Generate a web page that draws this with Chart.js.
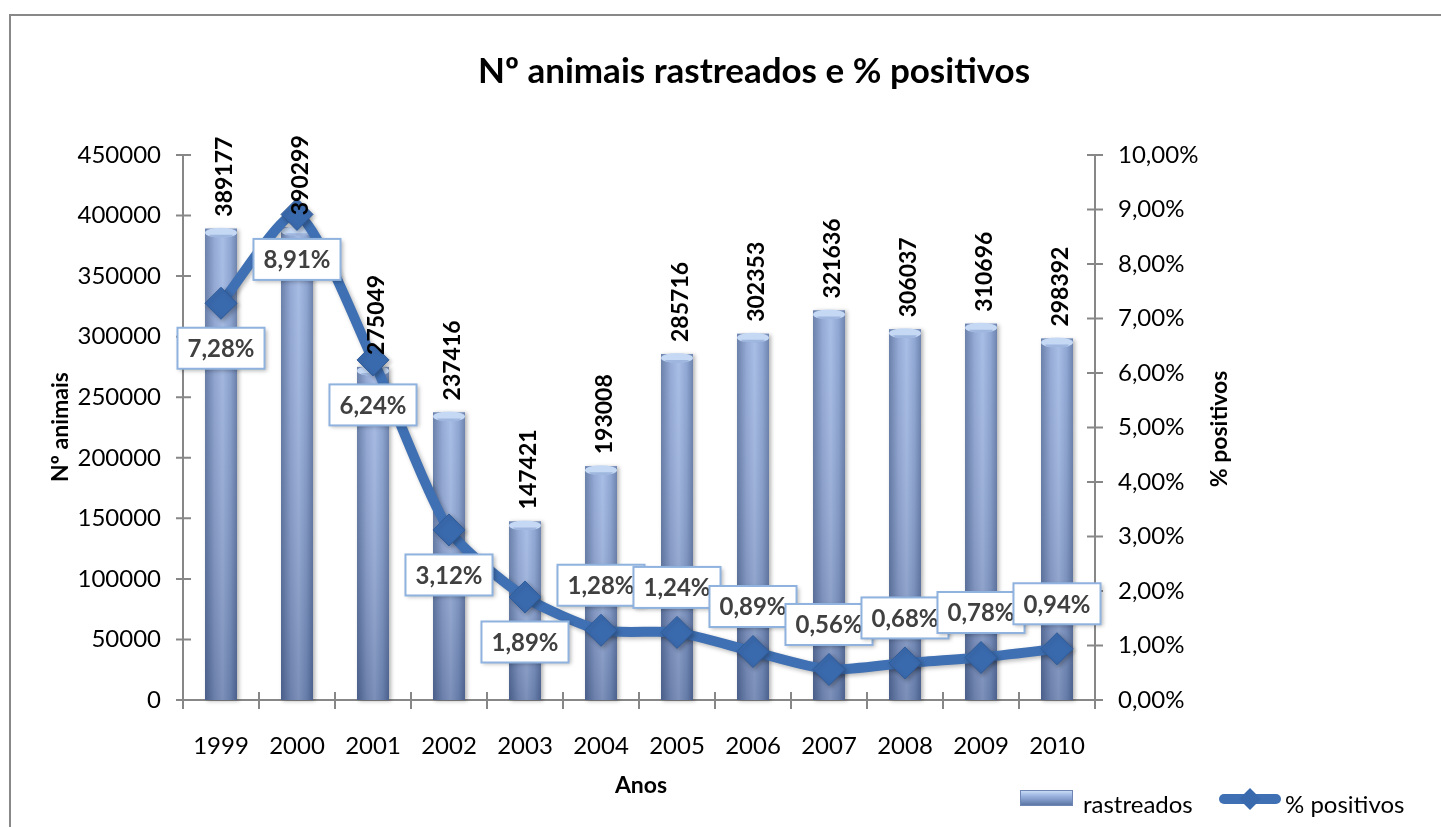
<!DOCTYPE html>
<html>
<head>
<meta charset="utf-8">
<title>Nº animais rastreados e % positivos</title>
<script src="https://cdn.jsdelivr.net/npm/chart.js@4/dist/chart.umd.min.js"></script>
<style>
  html, body { margin: 0; padding: 0; background: #fff; }
  #wrap { width: 1441px; height: 827px; }
</style>
</head>
<body>
<div id="wrap"><canvas id="chart" width="1441" height="827"></canvas></div>
<script>
// data
const anos = ['1999', '2000', '2001', '2002', '2003', '2004', '2005', '2006', '2007', '2008', '2009', '2010'];
const rastreados = [389177, 390299, 275049, 237416, 147421, 193008, 285716, 302353, 321636, 306037, 310696, 298392];
const positivos = [7.28, 8.91, 6.24, 3.12, 1.89, 1.28, 1.24, 0.89, 0.56, 0.68, 0.78, 0.94];
const animaisTicks = [0, 50000, 100000, 150000, 200000, 250000, 300000, 350000, 400000, 450000];
const pctTicks = [0, 1, 2, 3, 4, 5, 6, 7, 8, 9, 10];

const FONT = 'Lato, "Open Sans", sans-serif';
const AXIS_GREY = '#878787';
const LINE_BLUE = '#3f70b3';

// percent as "7,28%"
const pct = v => v.toFixed(2).replace('.', ',') + '%';

Chart.defaults.font.family = FONT;
Chart.defaults.color = '#000';

// frame, title, axis titles, axis lines with crossing ticks
const decorPlugin = {
    id: 'decor',
    beforeDraw(chart) {
        const c = chart.ctx;
        c.save();
        c.strokeStyle = '#888';
        c.lineWidth = 2;
        c.beginPath();
        c.moveTo(10, 830);
        c.lineTo(10, 15);
        c.lineTo(1445, 15);
        c.stroke();

        c.fillStyle = '#000';
        c.textAlign = 'center';
        c.textBaseline = 'middle';
        c.font = 'bold 35px ' + FONT;
        c.fillText('Nº animais rastreados e % positivos', 754, 72);

        c.font = 'bold 23px ' + FONT;
        c.fillText('Anos', 641, 786);

        c.save();
        c.translate(61, 427);
        c.rotate(-Math.PI / 2);
        c.fillText('Nº animais', 0, 0);
        c.restore();

        c.save();
        c.translate(1220, 429);
        c.rotate(-Math.PI / 2);
        c.fillText('% positivos', 0, 0);
        c.restore();
        c.restore();
    },
    beforeDatasetsDraw(chart) {
        const c = chart.ctx;
        const a = chart.chartArea;
        const sx = chart.scales.x, sy = chart.scales.y, sy1 = chart.scales.y1;
        c.save();
        c.strokeStyle = AXIS_GREY;
        c.lineWidth = 2;
        c.beginPath();
        // left axis
        c.moveTo(a.left, a.top); c.lineTo(a.left, a.bottom);
        animaisTicks.forEach(v => { const y = sy.getPixelForValue(v); c.moveTo(a.left - 7, y); c.lineTo(a.left + 8, y); });
        // right axis
        c.moveTo(a.right, a.top); c.lineTo(a.right, a.bottom);
        pctTicks.forEach(v => { const y = sy1.getPixelForValue(v); c.moveTo(a.right - 8, y); c.lineTo(a.right + 8, y); });
        // bottom axis, ticks between categories
        c.moveTo(a.left, a.bottom); c.lineTo(a.right, a.bottom);
        const step = sx.getPixelForTick(1) - sx.getPixelForTick(0);
        for (let i = 0; i <= anos.length; i++) {
            const x = i < anos.length ? sx.getPixelForTick(i) - step / 2 : a.right;
            c.moveTo(x, a.bottom - 8); c.lineTo(x, a.bottom + 9);
        }
        c.stroke();
        c.restore();
    },
    beforeDatasetDraw(chart, args) {
        if (args.index === 1) {
            const c = chart.ctx;
            c.save();
            c.shadowColor = 'rgba(0,0,0,0.28)';
            c.shadowBlur = 4;
            c.shadowOffsetX = 2;
            c.shadowOffsetY = 2;
        }
    },
    afterDatasetDraw(chart, args) {
        const c = chart.ctx;
        if (args.index === 1) { c.restore(); return; }
        // repaint bars as shaded cylinders
        const meta = chart.getDatasetMeta(0);
        meta.data.forEach(el => {
            const w = el.width, x0 = el.x - w / 2, x1 = el.x + w / 2, top = el.y, base = el.base;
            c.save();
            c.shadowColor = 'rgba(0,0,0,0.3)';
            c.shadowBlur = 4;
            c.shadowOffsetX = 2;
            c.shadowOffsetY = 1;
            const g = c.createLinearGradient(x0, 0, x1, 0);
            g.addColorStop(0, '#56709f');
            g.addColorStop(0.3, '#879fd0');
            g.addColorStop(0.55, '#9db5e2');
            g.addColorStop(0.8, '#809bcd');
            g.addColorStop(1, '#5a74a5');
            c.fillStyle = g;
            c.fillRect(x0, top, w, base - top);
            c.restore();
            c.save();
            const vg = c.createLinearGradient(0, top, 0, base);
            vg.addColorStop(0, 'rgba(255,255,255,0.12)');
            vg.addColorStop(1, 'rgba(35,45,75,0.28)');
            c.fillStyle = vg;
            c.fillRect(x0, top, w, base - top);
            // top cap
            c.beginPath();
            c.ellipse(el.x, top + 4, w / 2, 5, 0, 0, Math.PI * 2);
            c.fillStyle = '#c6d9f4';
            c.fill();
            c.beginPath();
            c.ellipse(el.x, top + 6, w / 2 - 4, 3, 0, 0, Math.PI);
            c.fillStyle = 'rgba(110,140,195,0.45)';
            c.fill();
            c.restore();
        });
    },
    afterDatasetsDraw(chart) {
        const c = chart.ctx;
        const bars = chart.getDatasetMeta(0).data;
        const pts = chart.getDatasetMeta(1).data;
        c.save();
        // rotated bar values
        c.fillStyle = '#000';
        c.font = 'bold 23px ' + FONT;
        c.textAlign = 'left';
        c.textBaseline = 'alphabetic';
        bars.forEach((el, i) => {
            c.save();
            c.translate(el.x + 11, el.y - 12);
            c.rotate(-Math.PI / 2);
            c.fillText(String(rastreados[i]), 0, 0);
            c.restore();
        });
        // percent label boxes: below the point on the steep part, above afterwards
        c.font = 'bold 24px ' + FONT;
        c.textAlign = 'center';
        c.textBaseline = 'middle';
        pts.forEach((el, i) => {
            const txt = pct(positivos[i]);
            const bw = c.measureText(txt).width + 20;
            const bh = 41;
            const cy = i < 5 ? el.y + 45 : el.y - 45;
            const bx = el.x - bw / 2, by = cy - bh / 2;
            c.save();
            c.shadowColor = 'rgba(0,0,0,0.28)';
            c.shadowBlur = 4;
            c.shadowOffsetX = 2;
            c.shadowOffsetY = 2;
            c.fillStyle = '#fff';
            c.fillRect(bx, by, bw, bh);
            c.restore();
            c.strokeStyle = '#8fb2de';
            c.lineWidth = 2;
            c.strokeRect(bx, by, bw, bh);
            c.fillStyle = '#404040';
            c.fillText(txt, el.x, cy + 1);
        });
        c.restore();
    },
    afterDraw(chart) {
        const c = chart.ctx;
        c.save();
        // legend: rastreados
        const lg = c.createLinearGradient(0, 790, 0, 806);
        lg.addColorStop(0, '#d2e2f8');
        lg.addColorStop(0.35, '#9db6e2');
        lg.addColorStop(1, '#56709f');
        c.fillStyle = lg;
        c.fillRect(1020, 790, 53, 16);
        c.strokeStyle = '#6d86b4';
        c.lineWidth = 1;
        c.strokeRect(1020.5, 790.5, 52, 15);
        c.fillStyle = '#000';
        c.font = '24px ' + FONT;
        c.textAlign = 'left';
        c.textBaseline = 'alphabetic';
        c.fillText('rastreados', 1083, 813);
        // legend: % positivos
        c.strokeStyle = LINE_BLUE;
        c.lineWidth = 10;
        c.lineCap = 'round';
        c.beginPath();
        c.moveTo(1224, 799); c.lineTo(1276, 799);
        c.stroke();
        c.beginPath();
        c.moveTo(1250, 788); c.lineTo(1261, 799); c.lineTo(1250, 810); c.lineTo(1239, 799);
        c.closePath();
        c.fillStyle = '#3a6aae';
        c.fill();
        c.fillStyle = '#000';
        c.fillText('% positivos', 1285, 813);
        c.restore();
    }
};

new Chart(document.getElementById('chart'), {
    data: {
        labels: anos,
        datasets: [
            {
                type: 'bar',
                label: 'rastreados',
                data: rastreados,
                yAxisID: 'y',
                backgroundColor: '#8aa5d6',
                barPercentage: 0.42,
                categoryPercentage: 1,
                order: 2
            },
            {
                type: 'line',
                label: '% positivos',
                data: positivos,
                yAxisID: 'y1',
                borderColor: LINE_BLUE,
                borderWidth: 10,
                tension: 0.22,
                pointStyle: 'rectRot',
                pointRadius: 16,
                pointBackgroundColor: '#3a6aae',
                pointBorderColor: '#2f5c9a',
                pointBorderWidth: 1,
                order: 1
            }
        ]
    },
    options: {
        responsive: false,
        animation: false,
        events: [],
        layout: { padding: { top: 155, left: 0, right: 0, bottom: 0 } },
        plugins: {
            legend: { display: false },
            title: { display: false },
            tooltip: { enabled: false }
        },
        scales: {
            x: {
                grid: { display: false, drawTicks: false },
                border: { display: false },
                ticks: { padding: 32, font: { size: 24 }, color: '#000', maxRotation: 0 },
                afterFit(s) { s.height = 127; }
            },
            y: {
                position: 'left',
                min: 0,
                max: 450000,
                grid: { display: false, drawTicks: false },
                border: { display: false },
                ticks: { padding: 22, font: { size: 24 }, color: '#000', callback: v => String(v) },
                afterBuildTicks(s) { s.ticks = animaisTicks.map(v => ({ value: v })); },
                afterFit(s) { s.width = 183; }
            },
            y1: {
                position: 'right',
                min: 0,
                max: 10,
                grid: { display: false, drawTicks: false },
                border: { display: false },
                ticks: { padding: 23, font: { size: 24 }, color: '#000', callback: v => pct(v) },
                afterBuildTicks(s) { s.ticks = pctTicks.map(v => ({ value: v })); },
                afterFit(s) { s.width = 1441 - 1095; }
            }
        }
    },
    plugins: [decorPlugin]
});
</script>
</body>
</html>
